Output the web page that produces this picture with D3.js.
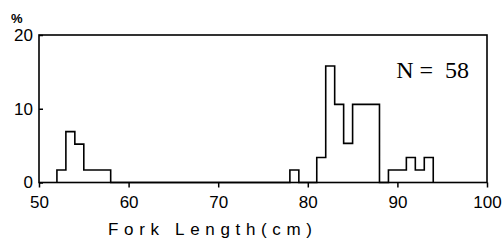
<!DOCTYPE html>
<html>
<head>
<meta charset="utf-8">
<script src="https://cdn.jsdelivr.net/npm/d3@7"></script>
<style>
  body { margin: 0; background: #fff; }
  text { font-family: "Liberation Sans", Arial, sans-serif; fill: #000; }
</style>
</head>
<body>
<div id="chart"></div>
<script>
// histogram bins (start of 1 cm class) and percentage of fish
var binStart = [52, 53, 54, 55, 56, 57, 78, 81, 82, 83, 84, 85, 86, 87, 89, 90, 91, 92, 93];
var pct      = [1.7, 6.9, 5.2, 1.7, 1.7, 1.7, 1.7, 3.4, 15.8, 10.6, 5.3, 10.6, 10.6, 10.6, 1.7, 1.7, 3.4, 1.7, 3.4];
var binWidth = 1;

var xTicks = [50, 60, 70, 80, 90, 100];
var yTicks = [0, 10, 20];
var sampleLabel = "N =  58";

var width = 504, height = 252;
var margin = {top: 35, right: 17, bottom: 69.5, left: 39};
var w = width - margin.left - margin.right,
    h = height - margin.top - margin.bottom;

var svg = d3.select("#chart")
  .append("svg")
    .attr("width", width)
    .attr("height", height)
  .append("g")
    .attr("transform", "translate(" + margin.left + "," + margin.top + ")");

var x = d3.scaleLinear().domain([50, 100]).range([0, w]);
var y = d3.scaleLinear().domain([0, 20]).range([h, 0]);

// x axis
var xAxis = svg.append("g")
    .attr("transform", "translate(0," + h + ")")
    .call(d3.axisBottom(x).tickValues(xTicks).tickSize(5).tickPadding(8.5))
    .call(g => g.select(".domain").remove());
xAxis.selectAll("line").attr("stroke", "#000").attr("stroke-width", 1.5);
xAxis.selectAll("text")
    .style("font-size", "17px")
    .style("font-family", "'Liberation Sans', Arial, sans-serif")
    .attr("fill", "#000");

// y axis
var yAxis = svg.append("g")
    .call(d3.axisLeft(y).tickValues(yTicks).tickSize(-4).tickPadding(6))
    .call(g => g.select(".domain").remove());
yAxis.selectAll("line").attr("stroke", "#000").attr("stroke-width", 1.5);
yAxis.selectAll("text")
    .style("font-size", "17px")
    .style("font-family", "'Liberation Sans', Arial, sans-serif")
    .attr("fill", "#000");

// frame
svg.append("rect")
    .attr("x", 0).attr("y", 0)
    .attr("width", w).attr("height", h)
    .attr("fill", "none")
    .attr("stroke", "#000")
    .attr("stroke-width", 1.6);

// step outline of the histogram, empty classes drop to zero
var lookup = {};
binStart.forEach((b, i) => lookup[b] = pct[i]);
var pts = [];
for (var b = binStart[0]; b <= binStart[binStart.length - 1]; b += binWidth) {
  pts.push([b, lookup[b] || 0]);
}
pts.push([binStart[binStart.length - 1] + binWidth, 0]);
pts.unshift([binStart[0], 0]);

var line = d3.line()
    .x(d => x(d[0]))
    .y(d => y(d[1]))
    .curve(d3.curveStepAfter);

svg.append("path")
    .datum(pts)
    .attr("d", line)
    .attr("fill", "none")
    .attr("stroke", "#000")
    .attr("stroke-width", 1.6);

// labels
svg.append("text")
    .attr("x", -28).attr("y", -12)
    .style("font-size", "13px")
    .style("font-weight", "bold")
    .text("%");

svg.append("text")
    .attr("x", w - 18).attr("y", 43)
    .attr("text-anchor", "end")
    .style("font-family", "'Liberation Serif', 'Times New Roman', serif")
    .style("font-size", "24px")
    .style("white-space", "pre")
    .text(sampleLabel);

svg.append("text")
    .attr("x", 69).attr("y", h + 52.5)
    .attr("textLength", 204)
    .attr("lengthAdjust", "spacing")
    .style("font-size", "17px")
    .text("Fork Length(cm)");
</script>
</body>
</html>
